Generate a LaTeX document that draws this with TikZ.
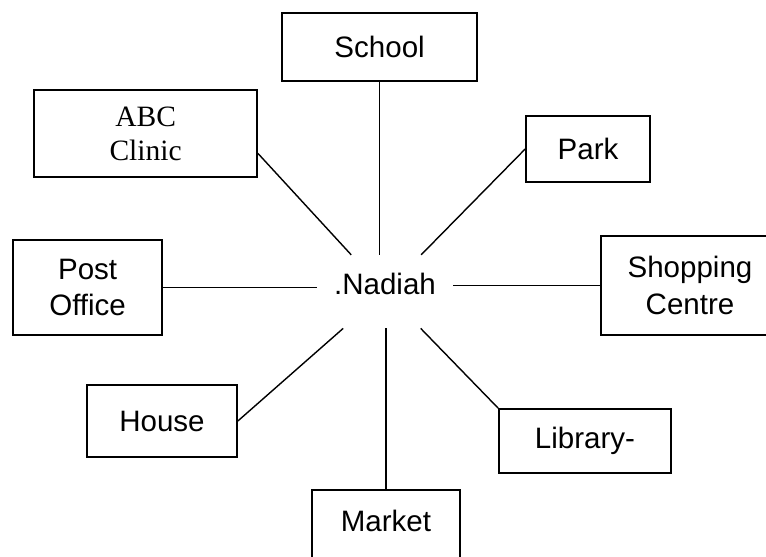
\documentclass[tikz,border=0pt]{standalone}
\usepackage{fontspec}
\setmainfont{Liberation Sans}
\newfontfamily\romanfont{Liberation Serif}
\usepackage{tikz}

\begin{document}
\begin{tikzpicture}[
    place/.style={rectangle, draw, line width=1.2pt, align=center,
                  inner sep=0pt, font=\fontsize{21}{26}\selectfont},
    hub/.style={rectangle, align=center, inner sep=0pt,
                minimum width=3.4cm, minimum height=1.825cm,
                font=\fontsize{21}{26}\selectfont},
    link/.style={line width=1pt}
]
  \useasboundingbox (0,0) rectangle (19.15,-13.9);

  \node[hub, text depth=0.375cm] (nadiah) at (9.625,-7.29) {.Nadiah};

  \node[place, minimum width=4.875cm, minimum height=1.7cm]   (school)  at (9.49,-1.175)  {School};
  \node[place, minimum width=5.575cm, minimum height=2.175cm,
        font=\romanfont\fontsize{21}{24}\selectfont]          (clinic)  at (3.64,-3.34)   {ABC\\Clinic};
  \node[place, minimum width=3.1cm, minimum height=1.65cm]    (park)    at (14.7,-3.725)  {Park};
  \node[place, minimum width=3.725cm, minimum height=2.375cm] (post)    at (2.19,-7.19)   {Post\\Office};
  \node[place, minimum width=4.45cm, minimum height=2.475cm]  (shop)    at (17.25,-7.14)  {Shopping\\Centre};
  \node[place, minimum width=3.75cm, minimum height=1.8cm]    (house)   at (4.05,-10.525) {House};
  \node[place, minimum width=4.3cm, minimum height=1.6cm]     (library) at (14.625,-11.025) {Library-};
  \node[place, minimum width=3.7cm, minimum height=2cm,
        text depth=0.475cm]                                   (market)  at (9.65,-13.25)  {Market};

  % spokes out of the middle
  \draw[link] (school.south) -- (school.south |- nadiah.north);
  \draw[link] (market.north) -- (market.north |- nadiah.south);
  \draw[link] (post.east) -- (post.east -| nadiah.west);
  \draw[link] (shop.west) -- (shop.west -| nadiah.east);
  \draw[link] (nadiah) -- (clinic.350);
  \draw[link] (nadiah) -- (park.west);
  \draw[link] (nadiah) -- (house.east);
  \draw[link] (nadiah) -- (library.north west);
\end{tikzpicture}
\end{document}
